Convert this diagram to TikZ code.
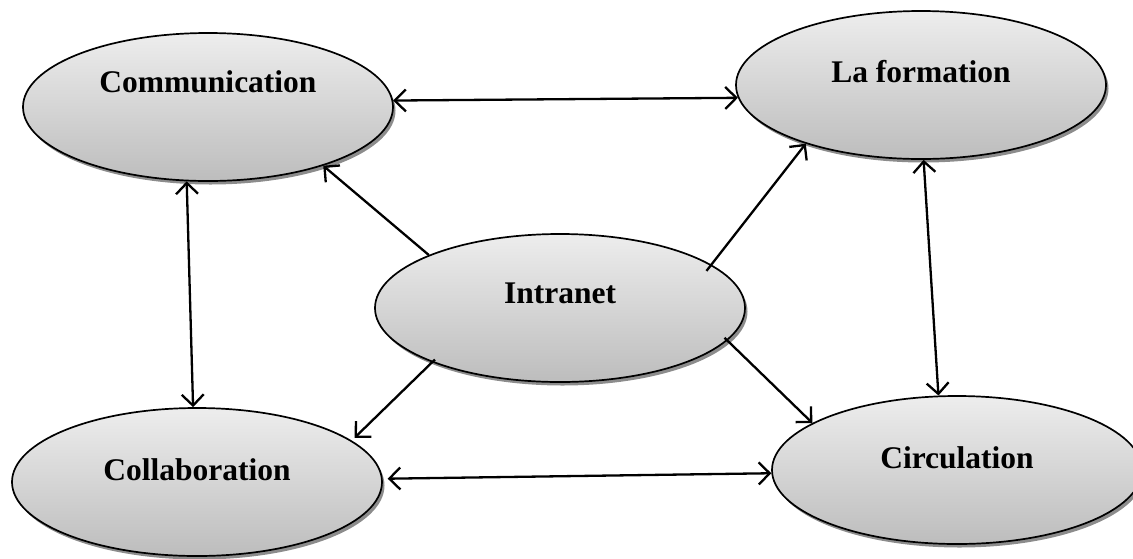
\documentclass[tikz,border=0pt]{standalone}
\usepackage{fontspec}
\setmainfont{Liberation Serif}
\usetikzlibrary{shapes.geometric,shadows,arrows.meta}
\colorlet{bulle haut}{black!7}
\colorlet{bulle bas}{black!26}
\tikzset{bulle/.style={ellipse, draw, line width=1.7pt, top color=bulle haut, bottom color=bulle bas,
		minimum width=370pt, minimum height=148pt, inner sep=0pt,
		font=\fontsize{31.5}{36}\selectfont\bfseries,
		drop shadow={shadow xshift=2.5pt, shadow yshift=-3.5pt, fill=black!45, opacity=1}},
	lien/.style={line width=2.3pt, -{Straight Barb[length=11pt,width=22pt]}},
	double lien/.style={line width=2.3pt, {Straight Barb[length=11pt,width=22pt]}-{Straight Barb[length=11pt,width=22pt]}}}

\begin{document}
\begin{tikzpicture}[x=1pt,y=-1pt]
		\useasboundingbox (0,0) rectangle (1133,558);
		\node[bulle, text depth=50pt] (comm) at (208,107) {Communication};
		\node[bulle, text depth=28pt] (form) at (921,85) {La formation};
		\node[bulle, text depth=30pt] (intra) at (560,308) {Intranet};
		\node[bulle, text depth=24pt] (collab) at (197,482) {Collaboration};
		\node[bulle, text depth=24pt] (circ) at (957,470) {Circulation};
		
		\draw[double lien] (comm.2) -- (form.184);
		\draw[double lien, shorten <=5pt] (collab.1.5) -- (circ.181);
		\draw[double lien] (comm.254) -- (collab.93);
		\draw[double lien] (form.272) -- (circ.104.6);
		
		\draw[lien] (intra.158.6) -- (comm.333.6);
		\draw[lien, shorten <=-8pt] (intra.16.1) -- (form.207.5);
		\draw[lien, shorten <=-4pt, shorten >=4pt] (intra.203.5) -- (collab.15.9);
		\draw[lien, shorten <=-4pt] (intra.349.1) -- (circ.162.6);
		\end{tikzpicture}
\end{document}
